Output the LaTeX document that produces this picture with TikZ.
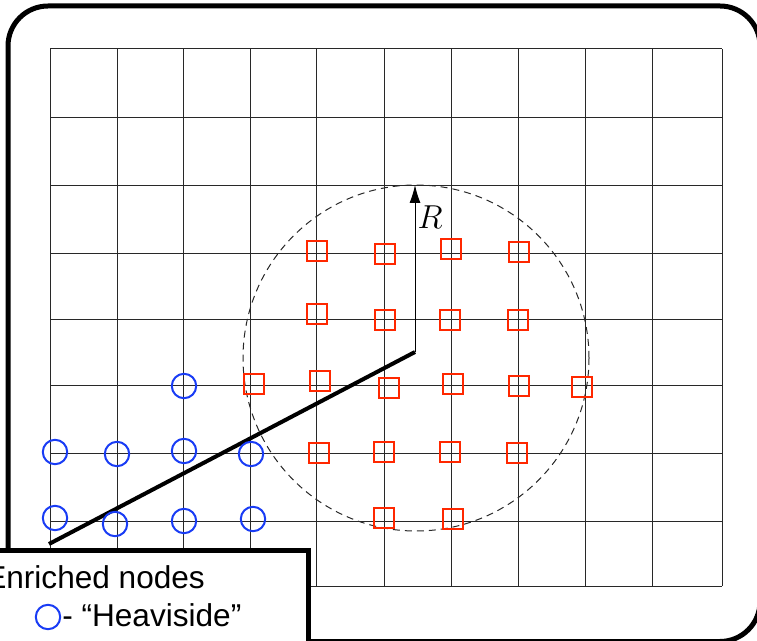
\documentclass[tikz,border=0pt]{standalone}
\usepackage{fontspec}
\newfontfamily\legendfont{Liberation Sans}
\usetikzlibrary{arrows.meta}

\tikzset{
  gridline/.style={color={rgb, 255:red, 40; green, 40; blue, 40 }, line width=0.75pt},
  heavnode/.style={circle, draw={rgb, 255:red, 25; green, 60; blue, 245 }, line width=1.5pt, minimum size=18.3pt, inner sep=0pt},
  tipnode/.style={rectangle, draw={rgb, 255:red, 255; green, 40; blue, 0 }, line width=1.5pt, minimum size=15.3pt, inner sep=0pt},
  legendtext/.style={anchor=base west, inner sep=0pt, font={\legendfont\fontsize{23.7}{28}\selectfont}},
}

\begin{document}
\begin{tikzpicture}[x=0.75pt,y=0.75pt,yscale=-1,xscale=1]
\useasboundingbox (0,0) rectangle (757,641);
\clip (0,0) rectangle (757,641);

%Straight Lines: vertical grid
\draw [gridline] (50,49) -- (50,586) ;
\draw [gridline] (117,49) -- (117,586) ;
\draw [gridline] (183,49) -- (183,586) ;
\draw [gridline] (250,49) -- (250,586) ;
\draw [gridline] (316,49) -- (316,586) ;
\draw [gridline] (384,49) -- (384,586) ;
\draw [gridline] (451,49) -- (451,586) ;
\draw [gridline] (518,49) -- (518,586) ;
\draw [gridline] (585,49) -- (585,586) ;
\draw [gridline] (652,49) -- (652,586) ;
\draw [gridline] (722,49) -- (722,586) ;
%Straight Lines: horizontal grid
\draw [gridline] (50,49) -- (722,49) ;
\draw [gridline] (50,118) -- (722,118) ;
\draw [gridline] (50,186) -- (722,186) ;
\draw [gridline] (50,254) -- (722,254) ;
\draw [gridline] (50,320) -- (722,320) ;
\draw [gridline] (50,386) -- (722,386) ;
\draw [gridline] (50,454) -- (722,454) ;
\draw [gridline] (50,521) -- (722,521) ;
\draw [gridline] (50,586) -- (722,586) ;

%Shape: Circle (support radius)
\coordinate (circcentre) at (416,358) ;
\draw [color={rgb, 255:red, 40; green, 40; blue, 40 }, line width=0.75pt][dash pattern={on 5.25pt off 3.75pt}] (circcentre) circle [radius=173] ;

%Straight Lines: crack
\coordinate (crackstart) at (49,544) ;
\coordinate (cracktip) at (415,352) ;
\coordinate (rtop) at (415,185) ;
\draw [line width=3pt] (crackstart) -- (cracktip) ;
%Straight Lines: radius arrow
\draw [line width=0.75pt, -{Latex[length=13.5pt,width=8.25pt]}] (cracktip) -- (rtop) ;

%Shape: Circle (Heaviside nodes)
\node [heavnode] (h1) at (184,386) {};
\node [heavnode] (h2) at (55,452) {};
\node [heavnode] (h3) at (117,454) {};
\node [heavnode] (h4) at (184,451) {};
\node [heavnode] (h5) at (251,454) {};
\node [heavnode] (h6) at (55,518) {};
\node [heavnode] (h7) at (115,524) {};
\node [heavnode] (h8) at (184,521) {};
\node [heavnode] (h9) at (253,519) {};

%Shape: Square (tip nodes)
\node [tipnode] (t1) at (317,251) {};
\node [tipnode] (t2) at (385,254) {};
\node [tipnode] (t3) at (451,249) {};
\node [tipnode] (t4) at (519,252) {};
\node [tipnode] (t5) at (317,314) {};
\node [tipnode] (t6) at (385,320) {};
\node [tipnode] (t7) at (450,320) {};
\node [tipnode] (t8) at (518,320) {};
\node [tipnode] (t9) at (254,384) {};
\node [tipnode] (t10) at (320,381) {};
\node [tipnode] (t11) at (389,388) {};
\node [tipnode] (t12) at (453,384) {};
\node [tipnode] (t13) at (519,386) {};
\node [tipnode] (t14) at (582,387) {};
\node [tipnode] (t15) at (319,453) {};
\node [tipnode] (t16) at (384,452) {};
\node [tipnode] (t17) at (450,452) {};
\node [tipnode] (t18) at (517,453) {};
\node [tipnode] (t19) at (384,518) {};
\node [tipnode] (t20) at (453,519) {};

% Text Node
\node [inner sep=0pt, font=\fontsize{24}{28}\selectfont] (rlabel) at (430,217) {$R$};

%Rounded Rect: frame
\draw [line width=3.75pt, rounded corners=30pt] (8,6) rectangle (760,641.5) ;

%Shape: Rectangle (legend)
\draw [fill=white, line width=3.75pt] (-40,550) rectangle (308,760) ;
% Text Node
\node [legendtext] (legtitle) at (-15,588) {Enriched nodes};
\node [heavnode] (legheav) at (48,617) {};
\node [legendtext] (legheavtext) at (62,626) {- “Heaviside”};

\end{tikzpicture}
\end{document}
